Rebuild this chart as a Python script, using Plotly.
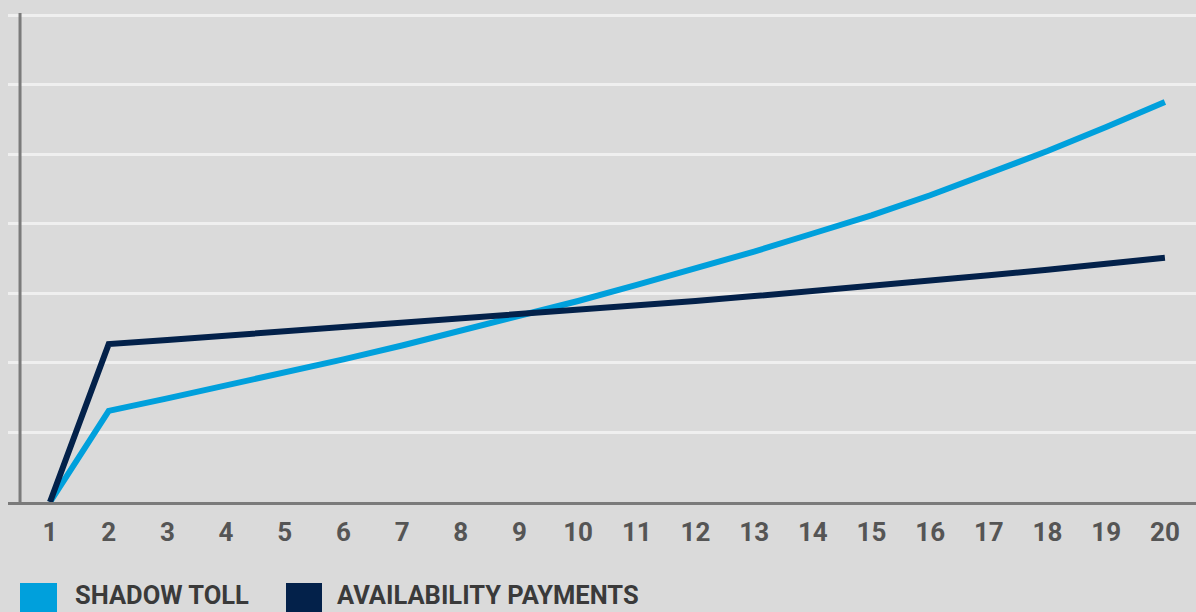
import plotly.graph_objects as go

years = list(range(1, 21))
shadow_toll = [0, 1.31, 1.49, 1.67, 1.86, 2.05, 2.25, 2.46, 2.67, 2.89,
               3.12, 3.355, 3.60, 3.86, 4.12, 4.41, 4.72, 5.045, 5.39, 5.75]
availability = [0, 2.27, 2.33, 2.39, 2.45, 2.51, 2.57, 2.63, 2.69, 2.755,
                2.82, 2.89, 2.96, 3.03, 3.105, 3.18, 3.26, 3.34, 3.425, 3.51]
tick_labels = [str(y) for y in years]
legend_names = ["SHADOW TOLL", "AVAILABILITY PAYMENTS"]

BLUE = "#00a0dc"
NAVY = "#03214a"
BG = "#dadada"

fig = go.Figure()
fig.add_trace(go.Scatter(x=years, y=shadow_toll, mode="lines",
                         line=dict(color=BLUE, width=6), name=legend_names[0],
                         showlegend=False))
fig.add_trace(go.Scatter(x=years, y=availability, mode="lines",
                         line=dict(color=NAVY, width=6), name=legend_names[1],
                         showlegend=False))

# y axis line
fig.add_shape(type="line", xref="x", yref="y", x0=0.489, x1=0.489, y0=0, y1=7.03,
              line=dict(color="#7a7a7a", width=3), layer="above")

# manual legend
legend_items = [(BLUE, 20, 57, 73, legend_names[0]), (NAVY, 286, 322, 335, legend_names[1])]
W, H, L, B = 1188, 489, 8, 502
for color, sx0, sx1, tx, name in legend_items:
    fig.add_shape(type="rect", xref="paper", yref="paper",
                  x0=(sx0 - L) / W, x1=(sx1 - L) / W,
                  y0=(B - 583) / H, y1=(B - 625) / H,
                  fillcolor=color, line=dict(width=0))
    fig.add_annotation(xref="paper", yref="paper", x=(tx - L) / W, y=(B - 595) / H,
                       xanchor="left", yanchor="middle", showarrow=False, text=name,
                       font=dict(family="Roboto", size=25.5, color="#3a3a3a", weight="bold"))

fig.update_layout(
    width=1196, height=612,
    margin=dict(l=8, r=0, t=13, b=110),
    paper_bgcolor=BG, plot_bgcolor=BG,
    showlegend=False,
    xaxis=dict(range=[0.284, 20.53], tickmode="array", tickvals=years, ticktext=tick_labels,
               showgrid=False, zeroline=False, showline=True, linecolor="#7a7a7a", linewidth=3,
               ticks="outside", ticklen=5, tickcolor="rgba(0,0,0,0)",
               tickfont=dict(family="Roboto", size=26, color="#555555", weight="bold")),
    yaxis=dict(range=[0, 7.03], dtick=1, showgrid=True, gridcolor="#efefef", gridwidth=3,
               zeroline=False, showticklabels=False, showline=False),
)

fig.write_html("out.html", config={"displayModeBar": False},
               post_script="document.body.style.margin='0';document.body.style.background='#dadada';")
